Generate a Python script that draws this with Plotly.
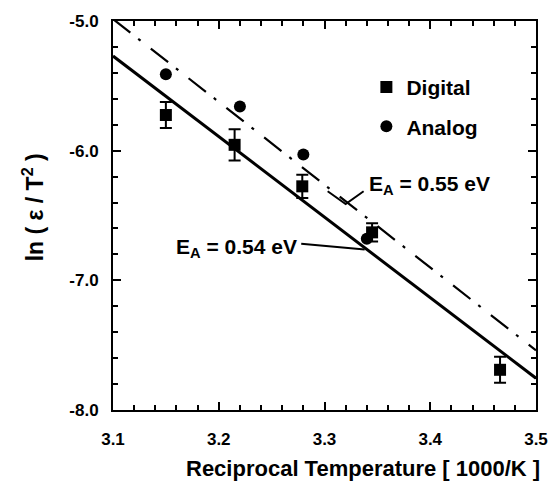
import plotly.graph_objects as go

# ---- data ----
digital_x = [3.150, 3.215, 3.279, 3.345, 3.466]
digital_y = [-5.725, -5.955, -6.275, -6.63, -7.69]
digital_err = [0.10, 0.12, 0.09, 0.07, 0.10]

analog_x = [3.150, 3.220, 3.280, 3.340]
analog_y = [-5.41, -5.66, -6.03, -6.68]

fit_x = [3.1, 3.5]
fit_054_y = [-5.27, -7.755]
fit_055_y = [-4.985, -7.54]

x_tick_vals = [3.1, 3.2, 3.3, 3.4, 3.5]
x_tick_text = ["3.1", "3.2", "3.3", "3.4", "3.5"]
y_tick_vals = [-8.0, -7.0, -6.0, -5.0]
y_tick_text = ["-8.0", "-7.0", "-6.0", "-5.0"]

label_054 = "E<sub>A</sub> = 0.54 eV"
label_055 = "E<sub>A</sub> = 0.55 eV"

FONT = "Liberation Sans, Arial, sans-serif"

fig = go.Figure()

fig.add_trace(go.Scatter(
    x=fit_x, y=fit_054_y, mode="lines",
    line=dict(color="black", width=3), showlegend=False, hoverinfo="skip"))
fig.add_trace(go.Scatter(
    x=fit_x, y=fit_055_y, mode="lines",
    line=dict(color="black", width=2.2, dash="22px,10px,3px,13px"),
    showlegend=False, hoverinfo="skip"))

fig.add_trace(go.Scatter(
    x=digital_x, y=digital_y, mode="markers", name="Digital",
    legendgroup="d",
    marker=dict(symbol="square", size=12, color="black"),
    error_y=dict(type="data", array=digital_err, visible=True,
                 color="black", thickness=2, width=6)))
fig.add_trace(go.Scatter(
    x=analog_x, y=analog_y, mode="markers", name="Analog",
    legendgroup="a",
    marker=dict(symbol="circle", size=12, color="black")))

# annotations with leader lines
fig.add_annotation(x=3.276, y=-6.748, xref="x", yref="y", text=label_054,
                   showarrow=False, xanchor="right", yanchor="middle",
                   font=dict(family=FONT, size=21, color="black", weight="bold"))
fig.add_shape(type="line", xref="x", yref="y", x0=3.278, y0=-6.718,
              x1=3.338, y1=-6.763, line=dict(color="black", width=2))

fig.add_annotation(x=3.340, y=-6.262, xref="x", yref="y", text=label_055,
                   showarrow=False, xanchor="left", yanchor="middle",
                   font=dict(family=FONT, size=21, color="black", weight="bold"))
fig.add_shape(type="path", xref="x", yref="y",
              path="M 3.303 -6.313 L 3.320 -6.412 L 3.337 -6.313",
              line=dict(color="black", width=2))

# axis titles as annotations
fig.add_annotation(x=1.0, y=-0.112, xref="paper", yref="paper", xshift=6,
                   text="Reciprocal Temperature [ 1000/K ]", showarrow=False,
                   xanchor="right", yanchor="top",
                   font=dict(family=FONT, size=22, color="black", weight="bold"))
fig.add_annotation(x=-0.19, y=0.52, xref="paper", yref="paper",
                   text="ln ( ε / T<sup>2</sup> )", showarrow=False, textangle=-90,
                   xanchor="center", yanchor="middle",
                   font=dict(family=FONT, size=23, color="black", weight="bold"))

axis_common = dict(
    showline=True, linecolor="black", linewidth=2, mirror="allticks",
    ticks="inside", ticklen=8, tickwidth=2, tickcolor="black",
    showgrid=False, zeroline=False,
    tickfont=dict(family=FONT, size=17, color="black", weight="bold"),
)

fig.update_xaxes(range=[3.1, 3.5], tickvals=x_tick_vals, ticktext=x_tick_text,
                 minor=dict(dtick=0.02, tick0=3.1, ticks="inside", ticklen=5,
                            tickwidth=2, tickcolor="black", showgrid=False),
                 ticklabelstandoff=13, **axis_common)
fig.update_yaxes(range=[-8.0, -5.0], tickvals=y_tick_vals, ticktext=y_tick_text,
                 minor=dict(dtick=0.2, tick0=-8.0, ticks="inside", ticklen=5,
                            tickwidth=2, tickcolor="black", showgrid=False),
                 ticklabelstandoff=9, **axis_common)

fig.update_layout(
    width=560, height=487,
    margin=dict(l=113, r=16, t=18, b=77),
    paper_bgcolor="white", plot_bgcolor="white",
    showlegend=True,
    legend=dict(x=0.599, y=0.882, xanchor="left", yanchor="top",
                bgcolor="rgba(0,0,0,0)", borderwidth=0,
                tracegroupgap=9,
                font=dict(family=FONT, size=21, color="black", weight="bold")),
)

fig.write_html("out.html")
